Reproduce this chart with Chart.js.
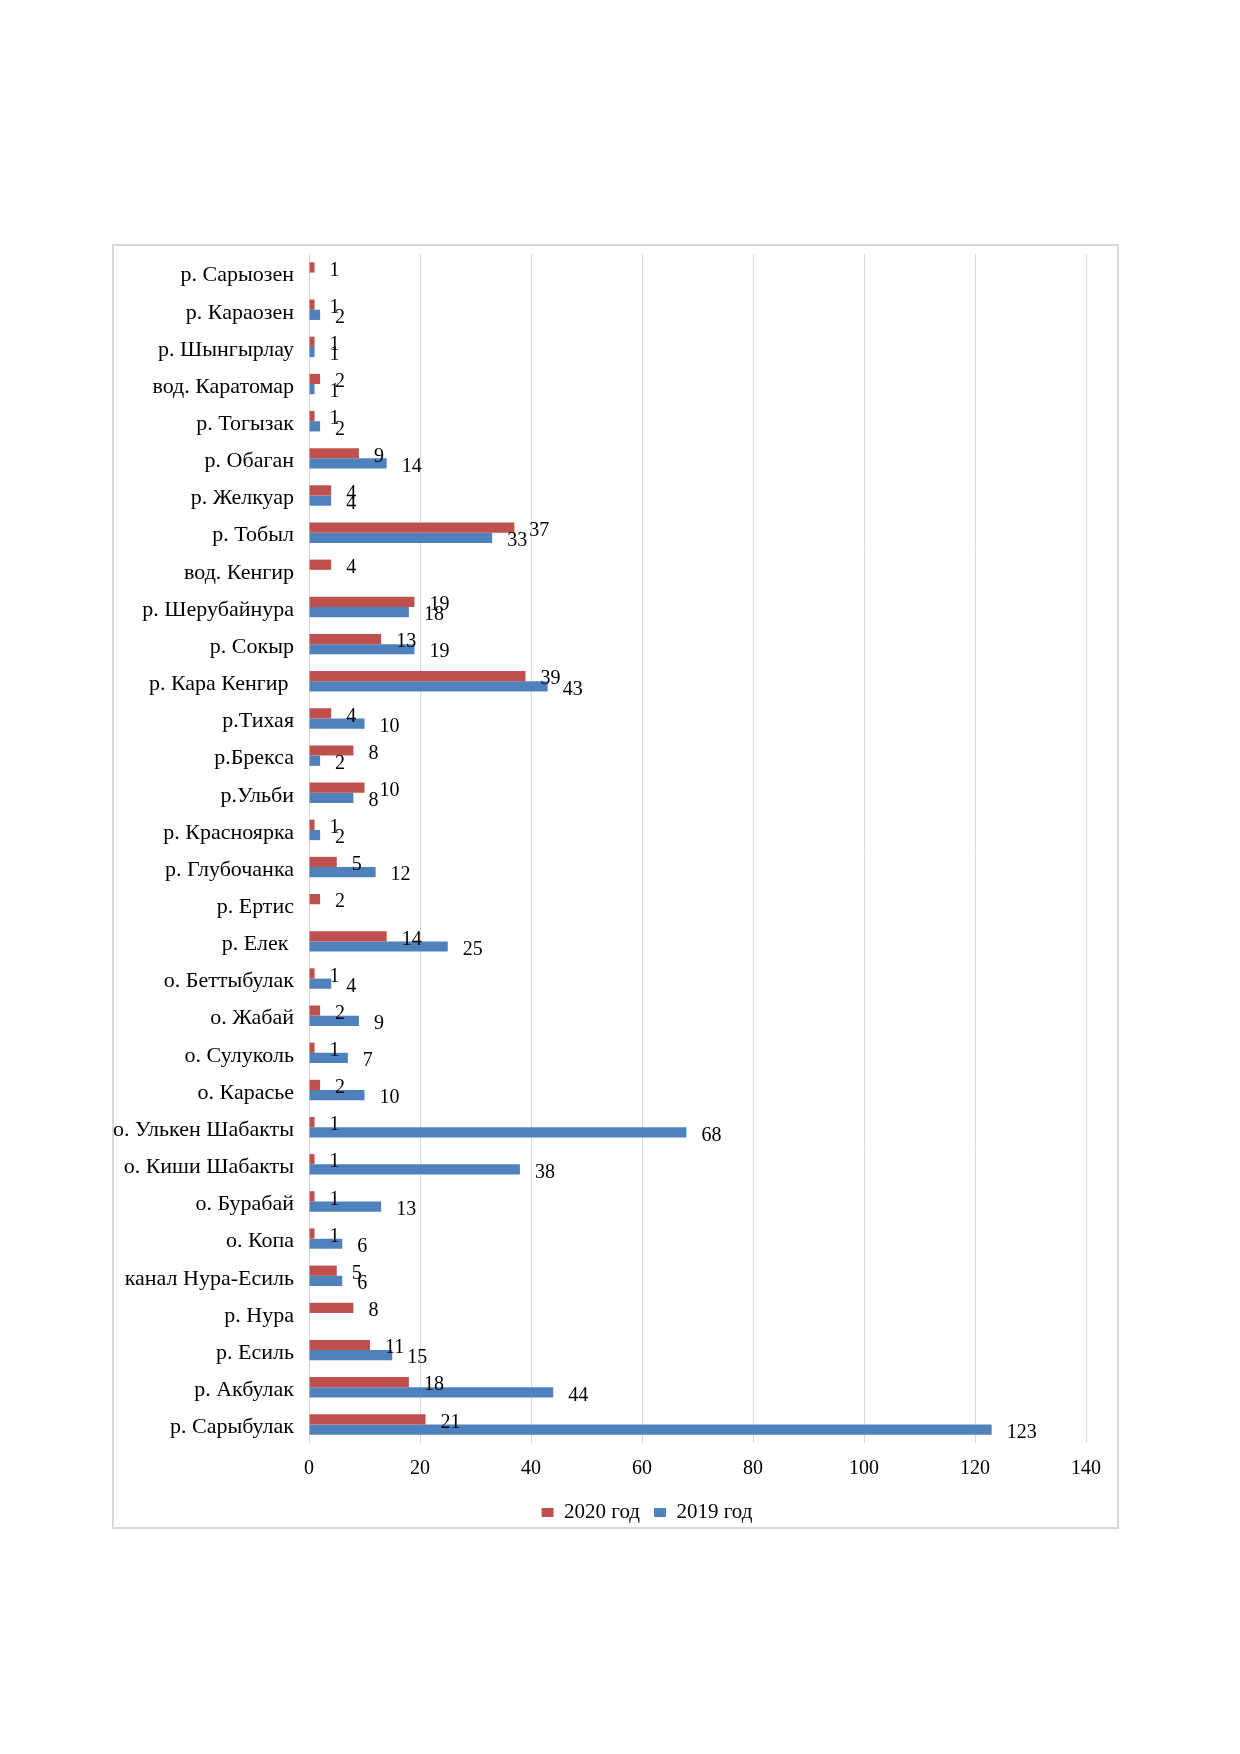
<!DOCTYPE html>
<html>
<head>
<meta charset="utf-8">
<script src="https://cdn.jsdelivr.net/npm/chart.js@4.4.1/dist/chart.umd.min.js"></script>
<style>
    html, body { margin: 0; padding: 0; background: #fff; }
</style>
</head>
<body>
<canvas id="waterChart" width="1240" height="1754"></canvas>
<script>
// water bodies, top to bottom as in the picture
const labels = [
    'р. Сарыозен', 'р. Караозен', 'р. Шынгырлау', 'вод. Каратомар', 'р. Тогызак',
    'р. Обаган', 'р. Желкуар', 'р. Тобыл', 'вод. Кенгир', 'р. Шерубайнура',
    'р. Сокыр', 'р. Кара Кенгир ', 'р.Тихая', 'р.Брекса', 'р.Ульби',
    'р. Красноярка', 'р. Глубочанка', 'р. Ертис', 'р. Елек ', 'о. Беттыбулак',
    'о. Жабай', 'о. Сулуколь', 'о. Карасье', 'о. Улькен Шабакты', 'о. Киши Шабакты',
    'о. Бурабай', 'о. Копа', 'канал Нура-Есиль', 'р. Нура', 'р. Есиль',
    'р. Акбулак', 'р. Сарыбулак'
];
const values2020 = [1, 1, 1, 2, 1, 9, 4, 37, 4, 19, 13, 39, 4, 8, 10, 1, 5, 2, 14, 1, 2, 1, 2, 1, 1, 1, 1, 5, 8, 11, 18, 21];
const values2019 = [null, 2, 1, 1, 2, 14, 4, 33, null, 18, 19, 43, 10, 2, 8, 2, 12, null, 25, 4, 9, 7, 10, 68, 38, 13, 6, 6, null, 15, 44, 123];
const xTicks = [0, 20, 40, 60, 80, 100, 120, 140];

const serif = 'Liberation Serif';

// white page + grey frame round the chart
const framePlugin = {
    id: 'frame',
    beforeDraw(chart) {
        const c = chart.ctx;
        c.save();
        c.fillStyle = '#fff';
        c.fillRect(0, 0, chart.width, chart.height);
        c.strokeStyle = '#d9d9d9';
        c.lineWidth = 2;
        c.strokeRect(113, 245, 1005, 1283);
        c.restore();
    }
};

// value next to the end of each bar
const valueLabels = {
    id: 'valueLabels',
    afterDatasetsDraw(chart) {
        const c = chart.ctx;
        c.save();
        c.font = '20px "' + serif + '"';
        c.fillStyle = '#000';
        c.textAlign = 'left';
        c.textBaseline = 'middle';
        chart.data.datasets.forEach((ds, i) => {
            chart.getDatasetMeta(i).data.forEach((bar, j) => {
                const v = ds.data[j];
                if (v === null || v === undefined) return;
                c.fillText(String(v), bar.x + 15, bar.y + 3);
            });
        });
        c.restore();
    }
};

new Chart(document.getElementById('waterChart').getContext('2d'), {
    type: 'bar',
    data: {
        labels: labels,
        datasets: [{
            label: '2020 год',
            data: values2020,
            backgroundColor: '#C0504D',
            borderWidth: 0
        }, {
            label: '2019 год',
            data: values2019,
            backgroundColor: '#4F81BD',
            borderWidth: 0
        }]
    },
    options: {
        indexAxis: 'y',
        responsive: false,
        animation: false,
        devicePixelRatio: 1,
        datasets: {
            bar: { categoryPercentage: 0.55, barPercentage: 1 }
        },
        layout: {
            padding: { left: 113, top: 254, right: 59, bottom: 221 }
        },
        scales: {
            x: {
                min: xTicks[0],
                max: xTicks[xTicks.length - 1],
                ticks: {
                    stepSize: xTicks[1] - xTicks[0],
                    color: '#000',
                    padding: 14,
                    font: { family: serif, size: 20 }
                },
                grid: { color: '#d9d9d9', lineWidth: 1, drawTicks: false },
                border: { display: false },
                afterFit: (scale) => { scale.height = 45; }
            },
            y: {
                ticks: {
                    color: '#000',
                    padding: 15,
                    labelOffset: 3,
                    autoSkip: false,
                    font: { family: serif, size: 22 }
                },
                grid: { display: false, drawTicks: false },
                border: { display: false },
                afterFit: (scale) => { scale.width = 196; }
            },
            // empty strip on the right so the legend sits where it does in the original
            yRight: {
                position: 'right',
                grid: { display: false, drawTicks: false },
                border: { display: false },
                ticks: { display: false },
                afterFit: (scale) => { scale.width = 95; }
            }
        },
        plugins: {
            legend: {
                position: 'bottom',
                labels: {
                    boxWidth: 12,
                    boxHeight: 9,
                    padding: 14,
                    color: '#000',
                    font: { family: serif, size: 21 }
                }
            },
            tooltip: { enabled: false }
        }
    },
    plugins: [framePlugin, valueLabels]
});
</script>
</body>
</html>
